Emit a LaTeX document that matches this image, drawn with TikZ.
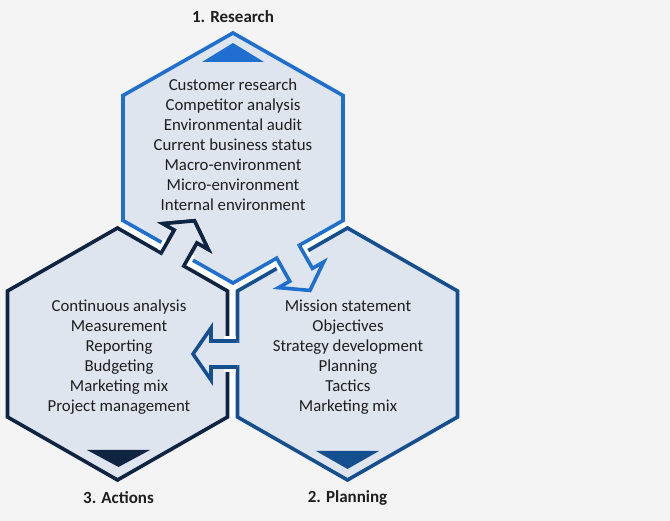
\documentclass[tikz,border=0pt]{standalone}
\usepackage{fontspec}
\setmainfont{Carlito}
\usetikzlibrary{calc}
\definecolor{bgc}{HTML}{F4F4F4}
\definecolor{hexbg}{HTML}{DFE5EF}
\definecolor{resblue}{HTML}{1F6FD0}
\definecolor{planblue}{HTML}{164F90}
\definecolor{actnavy}{HTML}{0E2440}
\definecolor{txtc}{HTML}{1E1E1E}
\begin{document}
\begin{tikzpicture}[x=1pt,y=-1pt,
  outline/.style={line width=3.6pt, line join=miter},
  gapw/.style={white, line width=10pt, line cap=butt},
  txt/.style={font=\fontsize{16.8}{20}\selectfont, align=center, text=txtc},
  ttl/.style={font=\fontsize{17}{20}\selectfont\bfseries, text=txtc}]
\fill[bgc] (0,0) rectangle (670,521);
\useasboundingbox (0,0) rectangle (670,521);
% Research hexagon
\coordinate (R1) at (233,33);    \coordinate (R2) at (343,95.5);
\coordinate (R3) at (343,220.5); \coordinate (R4) at (233,283);
\coordinate (R5) at (123,220.5); \coordinate (R6) at (123,95.5);
\coordinate (ra1) at (299.30,245.33); \coordinate (ra2) at (312.39,268.37);
\coordinate (ra3) at (323.70,261.95); \coordinate (rt) at (309.98,290.44);
\coordinate (ra4) at (278.48,287.63); \coordinate (ra5) at (289.79,281.21);
\coordinate (ra6) at (276.70,258.17);
% Planning hexagon
\coordinate (P1) at (347.5,228); \coordinate (P2) at (457.5,291);
\coordinate (P3) at (457.5,417); \coordinate (P4) at (347.5,480);
\coordinate (P5) at (237.5,417); \coordinate (P6) at (237.5,291);
\coordinate (pa1) at (237.5,341); \coordinate (pa2) at (211,341);
\coordinate (pa3) at (211,328);   \coordinate (pt) at (193,354);
\coordinate (pa4) at (211,380);   \coordinate (pa5) at (211,367);
\coordinate (pa6) at (237.5,367);
% Actions hexagon
\coordinate (A1) at (117.5,228); \coordinate (A2) at (227.5,291);
\coordinate (A3) at (227.5,417); \coordinate (A4) at (117.5,480);
\coordinate (A5) at (7.5,417);   \coordinate (A6) at (7.5,291);
\coordinate (aa1) at (183.80,265.92); \coordinate (aa2) at (196.89,242.88);
\coordinate (aa3) at (208.20,249.30); \coordinate (at) at (194.48,220.81);
\coordinate (aa4) at (162.98,223.62); \coordinate (aa5) at (174.29,230.04);
\coordinate (aa6) at (161.20,253.08);
% gap junction
\coordinate (J) at (232.5,288);
\coordinate (G1) at (120.25,224.25);
\coordinate (G2) at (345.25,224.25);
\coordinate (G3) at (232.5,417);
\draw[white, line width=10pt, line join=miter] (G1) -- (J) -- (G2);
\draw[white, line width=10pt] (J) -- (G3);
% hexagons
\path[fill=hexbg, draw=resblue, outline] (R1) -- (R2) -- (R3) -- (ra1) -- (ra2) -- (ra3) -- (rt) -- (ra4) -- (ra5) -- (ra6) -- (R4) -- (R5) -- (R6) -- cycle;
\path[fill=hexbg, draw=planblue, outline] (P1) -- (P2) -- (P3) -- (P4) -- (P5) -- (pa6) -- (pa5) -- (pa4) -- (pt) -- (pa3) -- (pa2) -- (pa1) -- (P6) -- cycle;
\path[fill=hexbg, draw=actnavy, outline] (A1) -- (aa6) -- (aa5) -- (aa4) -- (at) -- (aa3) -- (aa2) -- (aa1) -- (A2) -- (A3) -- (A4) -- (A5) -- (A6) -- cycle;
% white gaps beside arrow shafts
\draw[gapw] ($(ra1)!1.8pt!(ra2)$) -- ($(ra1)!14pt!(ra2)$);
\draw[gapw] ($(ra6)!1.8pt!(ra5)$) -- ($(ra6)!14pt!(ra5)$);
\draw[gapw] ($(pa1)!1.8pt!(pa2)$) -- ($(pa1)!14pt!(pa2)$);
\draw[gapw] ($(pa6)!1.8pt!(pa5)$) -- ($(pa6)!14pt!(pa5)$);
\draw[gapw] ($(aa1)!1.8pt!(aa2)$) -- ($(aa1)!14pt!(aa2)$);
\draw[gapw] ($(aa6)!1.8pt!(aa5)$) -- ($(aa6)!14pt!(aa5)$);
% arrows on top
\fill[hexbg] (ra1) -- (ra2) -- (ra3) -- (rt) -- (ra4) -- (ra5) -- (ra6) -- cycle;
\draw[resblue, outline] (ra1) -- (ra2) -- (ra3) -- (rt) -- (ra4) -- (ra5) -- (ra6);
\fill[hexbg] (pa1) -- (pa2) -- (pa3) -- (pt) -- (pa4) -- (pa5) -- (pa6) -- cycle;
\draw[planblue, outline] (pa1) -- (pa2) -- (pa3) -- (pt) -- (pa4) -- (pa5) -- (pa6);
\fill[hexbg] (aa1) -- (aa2) -- (aa3) -- (at) -- (aa4) -- (aa5) -- (aa6) -- cycle;
\draw[actnavy, outline] (aa1) -- (aa2) -- (aa3) -- (at) -- (aa4) -- (aa5) -- (aa6);
% triangles
\fill[resblue] (202,62) -- (233,43) -- (264,62) -- cycle;
\fill[planblue] (316,451) -- (379,451) -- (347.5,469) -- cycle;
\fill[actnavy] (87,450) -- (150,450) -- (118.5,467) -- cycle;
% texts
\node[ttl] (tres) at (233,17) {1. Research};
\node[ttl] (tplan) at (347.5,498) {2. Planning};
\node[ttl] (tact) at (118.5,498) {3. Actions};
\node[txt] (lres) at (233,145) {Customer research\\Competitor analysis\\Environmental audit\\Current business status\\Macro-environment\\Micro-environment\\Internal environment};
\node[txt] (lplan) at (348,357) {Mission statement\\Objectives\\Strategy development\\Planning\\Tactics\\Marketing mix};
\node[txt] (lact) at (119,357) {Continuous analysis\\Measurement\\Reporting\\Budgeting\\Marketing mix\\Project management};
\end{tikzpicture}
\end{document}
